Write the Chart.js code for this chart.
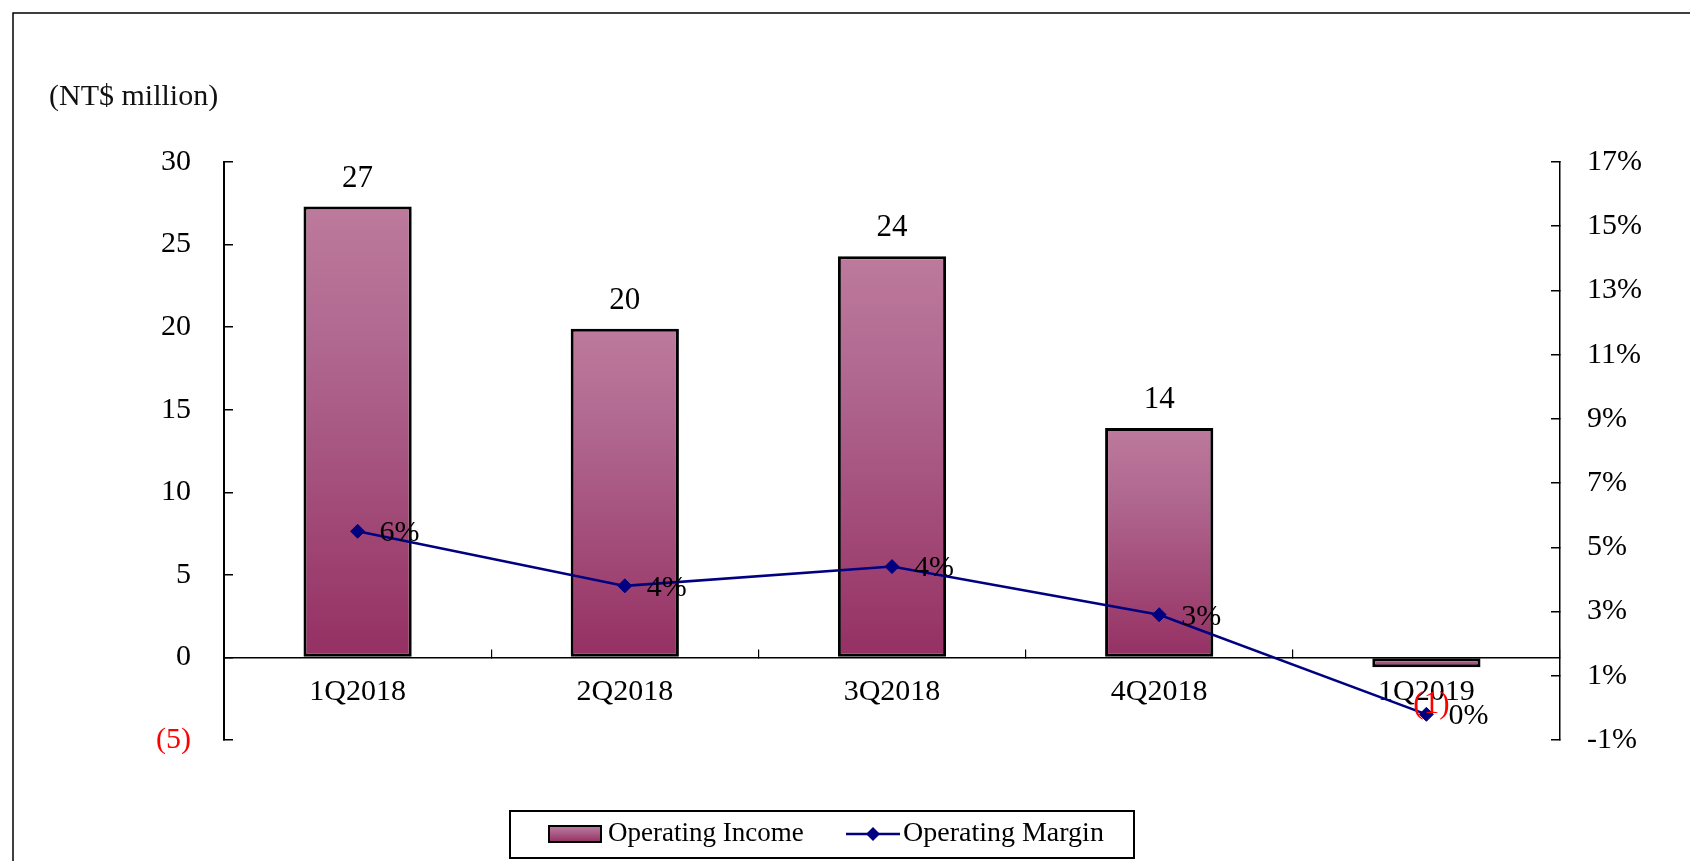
<!DOCTYPE html>
<html>
<head>
<meta charset="utf-8">
<script src="https://cdn.jsdelivr.net/npm/chart.js@4.4.1/dist/chart.umd.min.js"></script>
<style>
html,body{margin:0;padding:0;background:#fff;}
canvas{display:block;}
</style>
</head>
<body>
<canvas id="c" width="1690" height="861"></canvas>
<script>
// ---- data ----
const categories = ['1Q2018', '2Q2018', '3Q2018', '4Q2018', '1Q2019'];
const operatingIncome = [27.3, 19.9, 24.3, 13.9, -0.6];   // NT$ million
const operatingMargin = [5.5, 3.8, 4.4, 2.9, -0.2];       // %
const incomeAxis = [-5, 30, 5];   // min, max, step
const marginAxis = [-1, 17, 2];   // min, max, step
const unitLabel = '(NT$ million)';
const seriesNames = ['Operating Income', 'Operating Margin'];

const FONT = '"Liberation Serif", "Times New Roman", serif';
const NAVY = '#000080';

function barGradient(c, top, bottom) {
  const g = c.createLinearGradient(0, top, 0, bottom);
  g.addColorStop(0, '#bd7a9c');
  g.addColorStop(0.3, '#b06890');
  g.addColorStop(1, '#953063');
  return g;
}

const decor = {
  id: 'decor',
  beforeDraw(chart) {
    const c = chart.ctx;
    c.save();
    c.fillStyle = '#fff';
    c.fillRect(0, 0, chart.width, chart.height);
    c.strokeStyle = '#000';
    c.lineWidth = 1.5;
    c.beginPath();
    c.moveTo(13, chart.height);
    c.lineTo(13, 13);
    c.lineTo(chart.width, 13);
    c.stroke();
    c.fillStyle = '#111';
    c.font = '30px ' + FONT;
    c.textAlign = 'left';
    c.textBaseline = 'middle';
    c.fillText(unitLabel, 49, 97);
    c.restore();
  },
  afterDatasetsDraw(chart) {
    const c = chart.ctx;
    c.save();
    // bar labels
    c.font = '31px ' + FONT;
    const bars = chart.getDatasetMeta(0).data;
    bars.forEach((el, i) => {
      const v = operatingIncome[i];
      c.textAlign = 'center';
      c.textBaseline = 'alphabetic';
      if (v >= 0) {
        c.fillStyle = '#000';
        c.fillText(String(Math.round(v)), el.x, Math.min(el.y, el.base) - 20);
      } else {
        c.fillStyle = '#ff0000';
        c.fillText('(' + Math.round(Math.abs(v)) + ')', el.x + 5, Math.max(el.y, el.base) + 46);
      }
    });
    // margin labels
    c.font = '30px ' + FONT;
    const pts = chart.getDatasetMeta(1).data;
    pts.forEach((el, i) => {
      const v = Math.round(operatingMargin[i]);
      c.fillStyle = '#000';
      c.textAlign = 'left';
      c.textBaseline = 'middle';
      c.fillText((v === 0 ? 0 : v) + '%', el.x + 22, el.y + 2);
    });
    c.restore();
  },
  afterDraw(chart) {
    // legend
    const c = chart.ctx;
    c.save();
    c.strokeStyle = '#000';
    c.lineWidth = 2;
    c.strokeRect(510, 811, 624, 47);
    const cy = 834;
    // bar swatch
    c.fillStyle = barGradient(c, cy - 8, cy + 8);
    c.fillRect(549, cy - 8, 52, 16);
    c.lineWidth = 2;
    c.strokeRect(549, cy - 8, 52, 16);
    c.fillStyle = '#000';
    c.font = '27px ' + FONT;
    c.textAlign = 'left';
    c.textBaseline = 'middle';
    c.fillText(seriesNames[0], 608, cy);
    // line swatch
    c.strokeStyle = NAVY;
    c.lineWidth = 2.5;
    c.beginPath();
    c.moveTo(846, cy);
    c.lineTo(900, cy);
    c.stroke();
    c.fillStyle = NAVY;
    c.beginPath();
    c.moveTo(873, cy - 7);
    c.lineTo(880, cy);
    c.lineTo(873, cy + 7);
    c.lineTo(866, cy);
    c.closePath();
    c.fill();
    c.fillStyle = '#000';
    c.font = '28px ' + FONT;
    c.fillText(seriesNames[1], 903, cy);
    c.restore();
  }
};

new Chart(document.getElementById('c'), {
  data: {
    labels: categories,
    datasets: [
      {
        type: 'bar',
        label: seriesNames[0],
        data: operatingIncome,
        yAxisID: 'y',
        order: 2,
        barPercentage: 0.405,
        categoryPercentage: 1,
        borderColor: '#000',
        borderWidth: 3,
        borderSkipped: false,
        backgroundColor: (ctx) => {
          const chart = ctx.chart;
          if (!chart.chartArea || ctx.type !== 'data') return '#a5487a';
          const y = chart.scales.y;
          const a = y.getPixelForValue(0), b = y.getPixelForValue(ctx.raw);
          return barGradient(chart.ctx, Math.min(a, b), Math.max(a, b));
        }
      },
      {
        type: 'line',
        label: seriesNames[1],
        data: operatingMargin,
        yAxisID: 'y1',
        order: 1,
        borderColor: NAVY,
        backgroundColor: NAVY,
        borderWidth: 2.5,
        tension: 0,
        pointStyle: 'rectRot',
        pointRadius: 7,
        pointBackgroundColor: NAVY,
        pointBorderColor: NAVY,
        pointBorderWidth: 1
      }
    ]
  },
  options: {
    responsive: false,
    animation: false,
    devicePixelRatio: 1,
    layout: { padding: { top: 162, bottom: 121, left: 0, right: 0 } },
    plugins: { legend: { display: false }, tooltip: { enabled: false } },
    scales: {
      x: {
        type: 'category',
        position: { y: 0 },
        offset: true,
        grid: { offset: true, drawOnChartArea: false, tickLength: -9, color: '#000', lineWidth: 1.2 },
        border: { display: true, color: '#000', width: 1.5 },
        ticks: { color: '#000', font: { family: FONT, size: 30 }, padding: 26, maxRotation: 0, autoSkip: false }
      },
      y: {
        position: 'left',
        min: incomeAxis[0], max: incomeAxis[1],
        ticks: {
          stepSize: incomeAxis[2],
          padding: 42,
          font: { family: FONT, size: 30 },
          color: (ctx) => (ctx.tick && ctx.tick.value < 0 ? '#ff0000' : '#000'),
          callback: (v) => (v < 0 ? '(' + Math.abs(v) + ')' : String(v))
        },
        grid: { drawOnChartArea: false, tickLength: -9, color: '#000', lineWidth: 1.5 },
        border: { display: true, color: '#000', width: 2 },
        afterFit: (s) => { s.width = 224; }
      },
      y1: {
        position: 'right',
        min: marginAxis[0], max: marginAxis[1],
        ticks: {
          stepSize: marginAxis[2],
          padding: 36,
          font: { family: FONT, size: 30 },
          color: '#000',
          callback: (v) => v + '%'
        },
        grid: { drawOnChartArea: false, tickLength: -9, color: '#000', lineWidth: 1.5 },
        border: { display: true, color: '#000', width: 1.5 },
        afterFit: (s) => { s.width = 130; }
      }
    }
  },
  plugins: [decor]
});
</script>
</body>
</html>
